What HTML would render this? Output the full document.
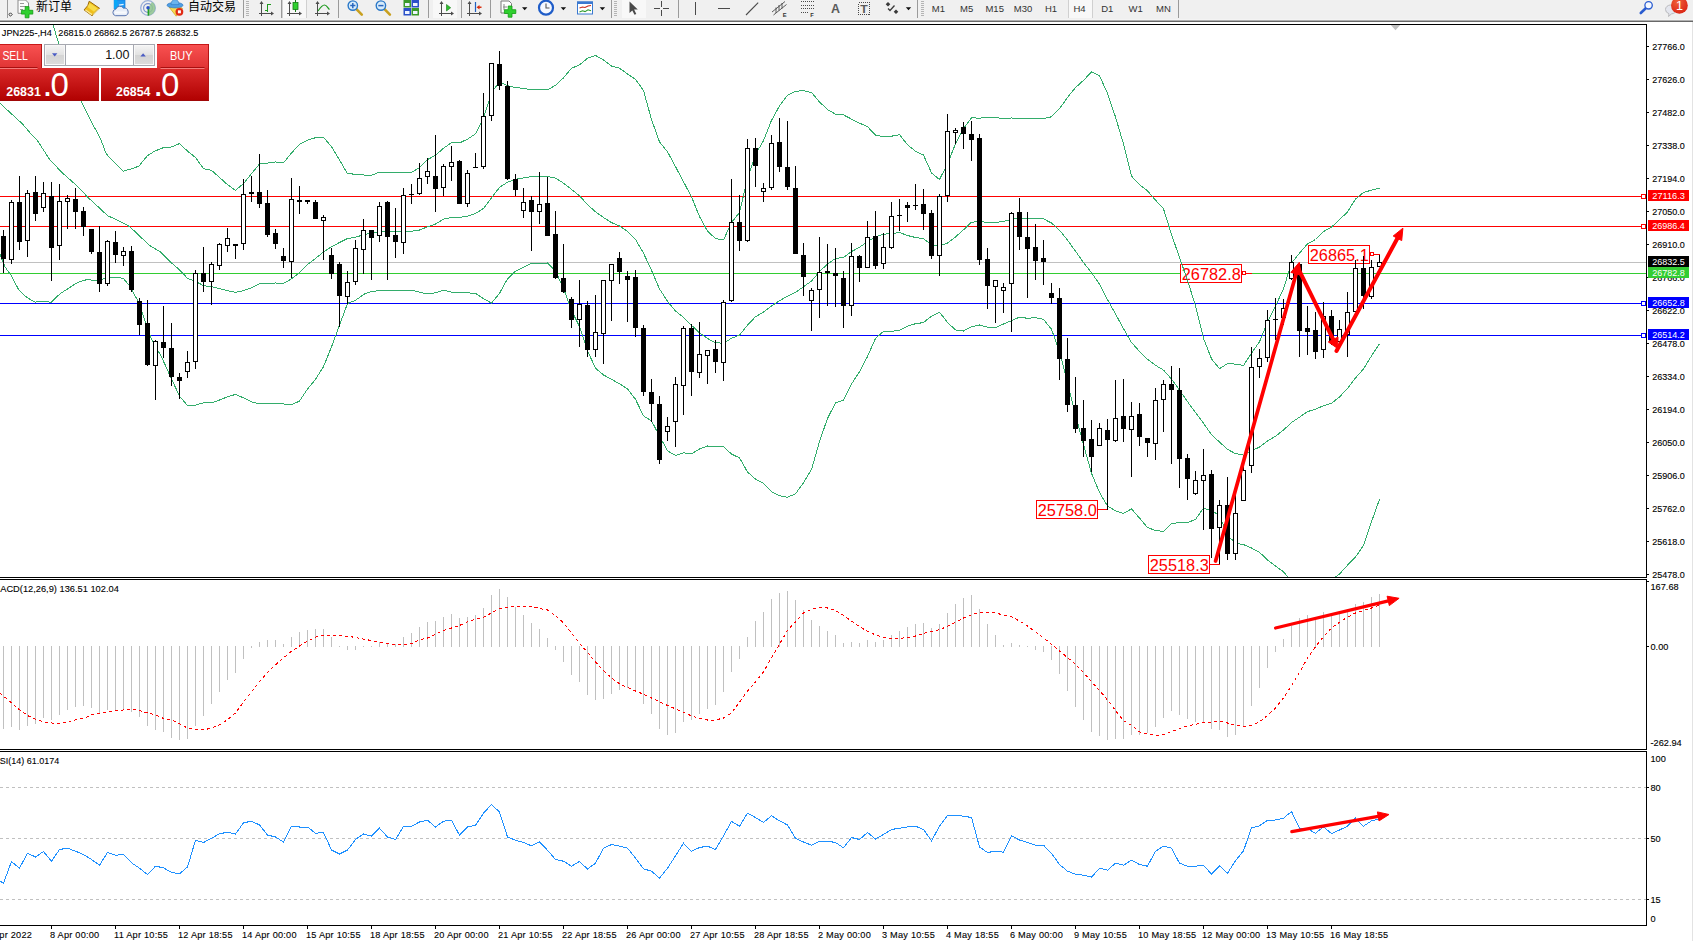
<!DOCTYPE html>
<html lang="zh"><head><meta charset="utf-8"><title>JPN225-,H4</title>
<style>html,body{margin:0;padding:0;background:#fff;overflow:hidden}svg{display:block}text{font-family:"Liberation Sans","Noto Sans CJK SC",sans-serif}</style>
</head><body>
<svg width="1693" height="941" viewBox="0 0 1693 941">
<defs>
<linearGradient id="gSell" x1="0" y1="0" x2="0" y2="1"><stop offset="0" stop-color="#f95252"/><stop offset="1" stop-color="#e03434"/></linearGradient>
<linearGradient id="gPrice" x1="0" y1="0" x2="0" y2="1"><stop offset="0" stop-color="#da2a2a"/><stop offset="1" stop-color="#b00000"/></linearGradient>
<linearGradient id="gBtn" x1="0" y1="0" x2="0" y2="1"><stop offset="0" stop-color="#f4f4f4"/><stop offset="0.5" stop-color="#e2e2e2"/><stop offset="0.5" stop-color="#d4d4d4"/><stop offset="1" stop-color="#dcdcdc"/></linearGradient>
<radialGradient id="gBadge" cx="0.4" cy="0.3" r="0.8"><stop offset="0" stop-color="#f0603a"/><stop offset="1" stop-color="#d81e10"/></radialGradient>
</defs>
<rect x="0" y="0" width="1693" height="941" fill="#fff"/>
<g id="toolbar"><rect x="0" y="0" width="1693" height="20" fill="#f0f0f0"/><rect x="0" y="19" width="1693" height="1" fill="#f4f4f4"/><rect x="0" y="20" width="1693" height="1" fill="#b0b0b0"/><rect x="0" y="21" width="1693" height="1" fill="#686868"/><rect x="282" y="0" width="24" height="18" fill="#f8f8f8"/><rect x="433" y="0" width="24" height="18" fill="#f8f8f8"/><rect x="622" y="0" width="24" height="18" fill="#f8f8f8"/><rect x="1068" y="0" width="24" height="18" fill="#f8f8f8"/><path d="M7.5 0V18M243.5 0V18M281.5 0V18M338.5 0V18M428.5 0V18M461.5 0V18M490.5 0V18M611.5 0V18M678.5 0V18M917.5 0V18M1178.5 0V18" stroke="#9a9a9a" fill="none" shape-rendering="crispEdges"/><path d="M247.5 1V17" stroke="#b4b4b4" stroke-width="3" stroke-dasharray="1 1" fill="none" shape-rendering="crispEdges"/><path d="M615.5 1V17" stroke="#b4b4b4" stroke-width="3" stroke-dasharray="1 1" fill="none" shape-rendering="crispEdges"/><path d="M922.5 1V17" stroke="#b4b4b4" stroke-width="3" stroke-dasharray="1 1" fill="none" shape-rendering="crispEdges"/><path d="M10.5 12.8l1.7 1.7l-1.7 1.7l-1.7 -1.7z" fill="none" stroke="#222" stroke-width="0.9"/><path d="M18 0V13.3H28.5V3L25.5 0z" fill="#fdfdfd" stroke="#8a8a8a"/><path d="M20 3.5h4M20 6.5h6M20 9.5h3" stroke="#9a9a9a" fill="none"/><path d="M25.2 6.6h3.8v3.7h3.8v3.8h-3.8v3.7h-3.8v-3.7h-3.8v-3.8h3.8z" fill="#2fd02f" stroke="#129a12" stroke-width="0.8"/><text x="36" y="11.3" font-family="'Liberation Sans','Noto Sans CJK SC',sans-serif" font-size="12" fill="#000">新订单</text><path d="M89.200 1.200L99.500 8.300L92 15.700L84.100 9.900L87.800 5.600z" fill="#efbe1c" stroke="#9a6808" stroke-width="1" stroke-linejoin="round"/><path d="M89.500 3L97.500 8.500L94 11.800L87.500 7z" fill="#f8dc48"/><path d="M85.500 10L92 14.600" stroke="#fae690" stroke-width="1.300" fill="none"/><path d="M93.200 14.700L98.800 9.200" stroke="#e8dca0" stroke-width="1.100" fill="none"/><path d="M114.200 0h10.800v9h-10.800z" fill="#1e9af4" stroke="#1478d8" stroke-width="0.7"/><path d="M114.200 0h3.200v9h-3.200z" fill="#08a8f8"/><path d="M119 5.200l4.600 -0.900" stroke="#e8f6ff" stroke-width="1.200" fill="none"/><path d="M115.500 15.700a3.300 3.300 0 0 1 0.300 -6.500a4.300 4.300 0 0 1 7.700 -1a3.700 3.700 0 0 1 1.600 7.500z" fill="#e8eef8" stroke="#4a68a8" stroke-width="0.9"/><path d="M114.800 12.500h11.500" stroke="#fff" stroke-width="2" opacity="0.7" fill="none"/><circle cx="148" cy="8" r="7.3" fill="none" stroke="#9ab0d8" stroke-width="1.3"/><circle cx="148" cy="8" r="4.4" fill="none" stroke="#7a94cc" stroke-width="1.2"/><path d="M148 8V15.5A7.5 7.5 0 0 0 155.3 8.6A7.3 7.3 0 0 0 152 2z" fill="#8fc48f" opacity="0.85"/><path d="M148.4 8V15.6" stroke="#22a022" stroke-width="1.6" fill="none"/><circle cx="148" cy="7.8" r="1.7" fill="#2a50c8"/><path d="M169 7L176.200 16.200L182.500 8.500L179 6z" fill="#f8dc50" stroke="#c8a018" stroke-width="0.7"/><ellipse cx="175" cy="5.200" rx="8" ry="2.700" fill="#4f9fe4" stroke="#2f78c0" stroke-width="0.7"/><path d="M171 4.600c0 -3 1.500 -5 4 -5s4 2 4 5z" fill="#6ab4ee" stroke="#2f78c0" stroke-width="0.6"/><circle cx="179.400" cy="11.800" r="3.900" fill="#e02a14"/><rect x="177.900" y="10.300" width="3" height="3" fill="#fff"/><text x="188" y="11.3" font-family="'Liberation Sans','Noto Sans CJK SC',sans-serif" font-size="12" fill="#000">自动交易</text><path d="M261.5 2V16M259 13.5H273" stroke="#4c4c4c" fill="none" shape-rendering="crispEdges"/><path d="M261.5 1l-2 3h4zM274 13.5l-3 -2v4z" fill="#4c4c4c"/><path d="M267.500 4V11.500M267.500 4.5h3M264.500 10.500h3" stroke="#1e9a1e" stroke-width="1.3" fill="none" shape-rendering="crispEdges"/><path d="M289.5 2V16M287 13.5H301" stroke="#4c4c4c" fill="none" shape-rendering="crispEdges"/><path d="M289.5 1l-2 3h4zM302 13.5l-3 -2v4z" fill="#4c4c4c"/><path d="M295.500 0V12" stroke="#167a16" fill="none" shape-rendering="crispEdges"/><rect x="293" y="2.500" width="5" height="7" fill="#2fd02f" stroke="#167a16" stroke-width="0.8"/><path d="M317.5 2V16M315 13.5H329" stroke="#4c4c4c" fill="none" shape-rendering="crispEdges"/><path d="M317.5 1l-2 3h4zM330 13.5l-3 -2v4z" fill="#4c4c4c"/><path d="M318 11c2-3 4-6 6.500-6s3 3 5 4.500" stroke="#1e9a1e" stroke-width="1.2" fill="none"/><path d="M356.40000000000003 9.200L361.8 14.600" stroke="#c8a020" stroke-width="2.600" stroke-linecap="round" fill="none"/><circle cx="352.8" cy="5.600" r="4.700" fill="#d8ecfa" stroke="#2a78c8" stroke-width="1.400"/><path d="M350.2 5.600h5.200M352.8 3v5.200" stroke="#2a68c0" stroke-width="1.500" fill="none"/><path d="M384.5 9.200L389.9 14.600" stroke="#c8a020" stroke-width="2.600" stroke-linecap="round" fill="none"/><circle cx="380.9" cy="5.600" r="4.700" fill="#d8ecfa" stroke="#2a78c8" stroke-width="1.400"/><path d="M378.29999999999995 5.600h5.200" stroke="#2a68c0" stroke-width="1.500" fill="none"/><rect x="403.5" y="0" width="7.500" height="7.500" fill="#3a9a2a"/><rect x="405.0" y="3" width="4.500" height="3" fill="#eef4ff"/><rect x="411.5" y="0" width="7.500" height="7.500" fill="#2a50c8"/><rect x="413.0" y="3" width="4.500" height="3" fill="#eef4ff"/><rect x="403.5" y="8" width="7.500" height="7.500" fill="#2a50c8"/><rect x="405.0" y="11" width="4.500" height="3" fill="#eef4ff"/><rect x="411.5" y="8" width="7.500" height="7.500" fill="#3a9a2a"/><rect x="413.0" y="11" width="4.500" height="3" fill="#eef4ff"/><path d="M441.5 2V16M439 13.5H453" stroke="#4c4c4c" fill="none" shape-rendering="crispEdges"/><path d="M441.5 1l-2 3h4zM454 13.5l-3 -2v4z" fill="#4c4c4c"/><path d="M446.500 4.500v6.500l4.200 -3.250z" fill="#2fc02f" stroke="#167a16" stroke-width="0.6"/><path d="M469.5 2V16M467 13.5H481" stroke="#4c4c4c" fill="none" shape-rendering="crispEdges"/><path d="M469.5 1l-2 3h4zM482 13.5l-3 -2v4z" fill="#4c4c4c"/><path d="M475.500 2V12" stroke="#2060c0" stroke-width="1.200" fill="none"/><path d="M476.500 7.300l3 -2.200v1.500h2v1.400h-2v1.500z" fill="#d83010"/><path d="M501 1V13H511.500V3.500L509 1z" fill="#fdfdfd" stroke="#7a7a7a"/><path d="M504 4v6M503 7h4" stroke="#888" fill="none"/><path d="M508.200 6h3.800v3.700h3.800v3.800h-3.800v3.700h-3.800v-3.700h-3.800v-3.800h3.800z" fill="#2fd02f" stroke="#129a12" stroke-width="0.8"/><path d="M522.0 7.300h5.400l-2.700 2.900z" fill="#111"/><path d="M560.6999999999999 7.300h5.400l-2.700 2.900z" fill="#111"/><path d="M599.6999999999999 7.300h5.400l-2.700 2.900z" fill="#111"/><path d="M905.8 7.300h5.400l-2.700 2.900z" fill="#111"/><path d="M-400.90000000000003 7.300h5.400l-2.700 2.900z" fill="#111"/><circle cx="546" cy="7.700" r="7" fill="#f4f8ff" stroke="#1e5cc8" stroke-width="2.200"/><path d="M546 3.500V8H549.500" stroke="#555" stroke-width="1.100" fill="none"/><rect x="577.500" y="2" width="15" height="12" fill="#fff" stroke="#3a78d0" stroke-width="1"/><rect x="577" y="1.500" width="16" height="2.500" fill="#3a78d0"/><path d="M579.500 8l3 -1l2.500 0.500l3 -1.500l3 -0.500" stroke="#c82a1a" stroke-width="1.100" fill="none"/><path d="M579.500 12l3 -1.200l2.500 0.800l3 -1.800l3 1" stroke="#2a9a2a" stroke-width="1.100" fill="none"/><path d="M629.500 1.500V13l2.800 -2.600l2.200 4.400l1.800 -0.900l-2.200 -4.300h3.700z" fill="#4a4a4a"/><path d="M661.500 1V16M654 8.500H669" stroke="#4a4a4a" fill="none" shape-rendering="crispEdges"/><rect x="660" y="7" width="3" height="3" fill="#f0f0f0"/><path d="M695.500 2V15M718 8.500H730" stroke="#4a4a4a" fill="none" shape-rendering="crispEdges"/><path d="M746 15L758.200 2.600" stroke="#4a4a4a" stroke-width="1.100" fill="none"/><path d="M772 12L785 1.500M773.500 15L786.500 4.500" stroke="#4a4a4a" stroke-width="0.9" fill="none"/><path d="M776 7.500V13M779 5V10.500M782 3V8.500" stroke="#4a4a4a" stroke-width="0.9" fill="none"/><text x="782.800" y="16.800" font-family="'Liberation Sans',sans-serif" font-size="5.800" font-weight="bold" fill="#333">E</text><path d="M801 1.500H814M801 5.500H814M801 8.500H814M801 12.500H809" stroke="#4a4a4a" stroke-dasharray="1 1" fill="none" shape-rendering="crispEdges"/><text x="810.300" y="16.800" font-family="'Liberation Sans',sans-serif" font-size="5.800" font-weight="bold" fill="#333">F</text><text x="831" y="12.800" font-family="'Liberation Sans',sans-serif" font-size="12" font-weight="bold" fill="#5a5a5a" textLength="9" lengthAdjust="spacingAndGlyphs">A</text><rect x="858.500" y="2.500" width="11" height="12" fill="none" stroke="#4a4a4a" stroke-dasharray="1 1" shape-rendering="crispEdges"/><text x="860.300" y="12.800" font-family="'Liberation Sans',sans-serif" font-size="11.500" font-weight="bold" fill="#5a5a5a" textLength="7.500" lengthAdjust="spacingAndGlyphs">T</text><path d="M888 2l2.300 2.300l-2.300 2.300l-2.300 -2.300zM896 9.500l2.300 2.300l-2.300 2.300l-2.300 -2.300z" fill="#3a3a3a"/><path d="M888 8.500l2 2l4.500 -5" stroke="#3a3a3a" stroke-width="1.300" fill="none"/><text x="938.4" y="11.500" font-family="'Liberation Sans',sans-serif" font-size="9.500" fill="#333" text-anchor="middle">M1</text><text x="966.6" y="11.500" font-family="'Liberation Sans',sans-serif" font-size="9.500" fill="#333" text-anchor="middle">M5</text><text x="994.7" y="11.500" font-family="'Liberation Sans',sans-serif" font-size="9.500" fill="#333" text-anchor="middle">M15</text><text x="1023" y="11.500" font-family="'Liberation Sans',sans-serif" font-size="9.500" fill="#333" text-anchor="middle">M30</text><text x="1051" y="11.500" font-family="'Liberation Sans',sans-serif" font-size="9.500" fill="#333" text-anchor="middle">H1</text><text x="1079.5" y="11.500" font-family="'Liberation Sans',sans-serif" font-size="9.500" fill="#333" text-anchor="middle">H4</text><text x="1107.3" y="11.500" font-family="'Liberation Sans',sans-serif" font-size="9.500" fill="#333" text-anchor="middle">D1</text><text x="1135.6" y="11.500" font-family="'Liberation Sans',sans-serif" font-size="9.500" fill="#333" text-anchor="middle">W1</text><text x="1163.4" y="11.500" font-family="'Liberation Sans',sans-serif" font-size="9.500" fill="#333" text-anchor="middle">MN</text><path d="M1068.500 0V18M1092.500 0V18M282.500 0V18M306.500 0V18" stroke="#d0d0d0" fill="none" shape-rendering="crispEdges"/><path d="M1646 8L1640.800 13" stroke="#2a5cd0" stroke-width="2.600" stroke-linecap="round" fill="none"/><circle cx="1648.600" cy="5.300" r="3.700" fill="#f4f8ff" stroke="#2a5cd0" stroke-width="1.300"/><path d="M1665.500 9.500a5.500 4.500 0 1 1 6 4.400l-3 2.600l0.500 -2.800a5.500 4.500 0 0 1 -3.500 -4.200z" fill="#e4e6ee" stroke="#b4b4b8" stroke-width="0.9"/><circle cx="1679.400" cy="5.400" r="8.400" fill="url(#gBadge)"/><text x="1679.600" y="10" font-family="'Liberation Sans',sans-serif" font-size="12.500" fill="#fff" text-anchor="middle">1</text></g>
<g shape-rendering="crispEdges" fill="none">
<rect x="1692" y="22" width="1" height="919" fill="#e3e3e3" stroke="none"/>
<path d="M0 24.5H1647" stroke="#000"/>
<path d="M1646.5 24V578M1646.5 579V750M1646.5 751V926" stroke="#000"/>
<path d="M0 577.5H1647M0 579.5H1647M0 749.5H1647M0 751.5H1647M0 925.5H1647" stroke="#000"/>
</g>
<g shape-rendering="crispEdges" fill="none">
<path d="M0 262.5H1646" stroke="#c0c0c0"/>
<path d="M0 273.5H1646" stroke="#32cd32"/>
<path d="M0 196.5H1641" stroke="#ff0000"/>
<rect x="1641.5" y="194.5" width="4" height="4" stroke="#ff0000" fill="#fff"/>
<path d="M0 226.5H1641" stroke="#ff0000"/>
<rect x="1641.5" y="224.5" width="4" height="4" stroke="#ff0000" fill="#fff"/>
<path d="M0 303.5H1641" stroke="#0000ff"/>
<rect x="1641.5" y="301.5" width="4" height="4" stroke="#0000ff" fill="#fff"/>
<path d="M0 335.5H1641" stroke="#0000ff"/>
<rect x="1641.5" y="333.5" width="4" height="4" stroke="#0000ff" fill="#fff"/>
</g>
<g id="annot-bg"><g fill="none" stroke="#ff0000" shape-rendering="crispEdges"><path d="M1098 509.5H1108"/><path d="M1210 564.5H1220"/><path d="M1245 273.5H1252"/><rect x="1242.5" y="271.5" width="3" height="3" fill="#fff"/><path d="M1373 254.5H1380"/><rect x="1370.5" y="252.5" width="3" height="3" fill="#fff"/></g><rect x="1036.5" y="500.5" width="61" height="18" fill="#fff" stroke="#ff0000" shape-rendering="crispEdges"/><text x="1037.8" y="516" font-family="'Liberation Sans',sans-serif" font-size="16.7" fill="#ff0000" textLength="59" lengthAdjust="spacingAndGlyphs">25758.0</text><rect x="1148.5" y="555.5" width="61" height="18" fill="#fff" stroke="#ff0000" shape-rendering="crispEdges"/><text x="1149.8" y="571" font-family="'Liberation Sans',sans-serif" font-size="16.7" fill="#ff0000" textLength="59" lengthAdjust="spacingAndGlyphs">25518.3</text><rect x="1180.5" y="264.5" width="61" height="18" fill="#fff" stroke="#ff0000" shape-rendering="crispEdges"/><text x="1181.8" y="280" font-family="'Liberation Sans',sans-serif" font-size="16.7" fill="#ff0000" textLength="59" lengthAdjust="spacingAndGlyphs">26782.8</text><rect x="1308.5" y="245.5" width="61" height="18" fill="#fff" stroke="#ff0000" shape-rendering="crispEdges"/><text x="1309.8" y="261" font-family="'Liberation Sans',sans-serif" font-size="16.7" fill="#ff0000" textLength="59" lengthAdjust="spacingAndGlyphs">26865.1</text></g>
<g id="bands" shape-rendering="crispEdges">
<path d="M0.0 102.8 L6.2 109.0 L22.5 124.0 L30.0 132.8 L37.5 140.7 L50.0 160.0 L62.5 173.0 L78.8 187.5 L87.5 197.0 L96.2 205.0 L107.5 215.6 L125.0 223.8 L130.0 226.9 L143.8 240.0 L148.8 245.0 L161.2 252.5 L171.5 262.9 L179.5 269.9 L187.5 278.3 L195.5 281.3 L203.5 285.7 L211.5 286.6 L219.5 288.7 L227.5 290.7 L235.5 292.4 L243.5 290.7 L251.5 287.8 L259.5 283.8 L267.5 283.5 L275.5 283.0 L283.5 283.4 L291.5 278.9 L299.5 272.8 L307.5 264.6 L315.5 258.5 L323.5 251.9 L331.5 246.8 L339.5 242.5 L347.5 238.5 L355.5 237.3 L363.5 234.7 L371.5 233.3 L379.5 231.4 L387.5 231.3 L395.5 231.2 L403.5 231.2 L411.5 231.3 L419.5 230.0 L427.5 226.8 L435.5 224.0 L443.5 219.2 L451.5 217.4 L459.5 217.5 L467.5 216.1 L475.5 213.5 L483.5 208.4 L491.5 197.9 L499.5 187.4 L507.5 182.2 L515.5 179.3 L523.5 177.9 L531.5 176.6 L539.5 176.6 L547.5 176.5 L555.5 178.2 L563.5 183.1 L571.5 189.4 L579.5 195.7 L587.5 204.6 L595.5 211.8 L603.5 217.5 L611.5 222.6 L619.5 226.0 L627.5 231.3 L635.5 239.3 L643.5 253.2 L651.5 270.2 L659.5 288.9 L667.5 301.3 L675.5 311.0 L683.5 317.3 L691.5 325.3 L699.5 332.8 L707.5 338.5 L715.5 342.8 L723.5 343.2 L731.5 338.3 L739.5 335.1 L747.5 325.1 L755.5 316.7 L763.5 312.1 L771.5 306.0 L779.5 300.8 L787.5 296.1 L795.5 292.5 L803.5 286.7 L811.5 281.0 L819.5 271.6 L827.5 264.0 L835.5 258.5 L843.5 257.4 L851.5 251.6 L859.5 247.3 L867.5 241.6 L875.5 236.8 L883.5 234.1 L891.5 233.8 L899.5 232.5 L907.5 235.5 L915.5 237.5 L923.5 238.8 L931.5 244.5 L939.5 245.9 L947.5 243.1 L955.5 236.9 L963.5 229.8 L971.5 222.2 L979.5 221.6 L987.5 222.3 L995.5 222.4 L1003.5 221.5 L1011.5 219.4 L1019.5 217.8 L1027.5 218.4 L1035.5 218.2 L1043.5 218.9 L1051.5 223.0 L1059.5 230.2 L1067.5 240.1 L1075.5 251.2 L1083.5 262.5 L1091.5 272.6 L1099.5 284.2 L1107.5 299.6 L1115.5 314.0 L1123.5 328.7 L1131.5 342.5 L1139.5 351.4 L1147.5 359.2 L1155.5 365.3 L1163.5 370.1 L1171.5 379.0 L1179.5 390.1 L1187.5 401.6 L1195.5 412.5 L1203.5 423.2 L1211.5 434.7 L1219.5 442.0 L1227.5 449.4 L1235.5 453.6 L1243.5 455.1 L1251.5 450.6 L1259.5 447.1 L1267.5 441.1 L1275.5 436.2 L1283.5 430.1 L1291.5 422.5 L1299.5 417.2 L1307.5 411.6 L1315.5 409.2 L1323.5 405.7 L1331.5 403.4 L1339.5 396.9 L1347.5 388.6 L1355.5 378.0 L1363.5 369.0 L1371.5 355.9 L1379.5 343.8" fill="none" stroke="#33ad6b" stroke-width="1" />
<path d="M53.1 25.0 L58.1 41.5 L70.0 72.0 L81.9 102.8 L87.5 114.0 L92.5 124.0 L98.8 135.2 L101.2 140.6 L106.2 153.8 L115.0 163.0 L123.1 171.2 L131.0 169.0 L138.8 166.2 L147.5 155.6 L155.0 151.0 L162.5 148.0 L171.5 147.0 L179.5 143.6 L187.5 151.1 L195.5 157.5 L203.5 168.7 L211.5 170.4 L219.5 177.4 L227.5 184.7 L235.5 190.3 L243.5 183.6 L251.5 173.7 L259.5 163.9 L267.5 163.1 L275.5 162.0 L283.5 162.9 L291.5 153.0 L299.5 144.4 L307.5 140.2 L315.5 137.7 L323.5 137.3 L331.5 146.7 L339.5 159.9 L347.5 173.7 L355.5 174.2 L363.5 175.0 L371.5 175.2 L379.5 172.2 L387.5 172.2 L395.5 172.2 L403.5 172.3 L411.5 172.5 L419.5 167.7 L427.5 159.6 L435.5 155.3 L443.5 148.3 L451.5 142.7 L459.5 142.9 L467.5 139.2 L475.5 133.8 L483.5 118.2 L491.5 92.8 L499.5 81.5 L507.5 85.7 L515.5 87.5 L523.5 88.4 L531.5 89.9 L539.5 89.9 L547.5 90.0 L555.5 85.3 L563.5 77.9 L571.5 68.3 L579.5 64.9 L587.5 58.3 L595.5 55.5 L603.5 60.0 L611.5 66.0 L619.5 68.2 L627.5 73.9 L635.5 79.4 L643.5 90.4 L651.5 119.6 L659.5 141.8 L667.5 151.8 L675.5 166.6 L683.5 181.8 L691.5 196.8 L699.5 216.6 L707.5 231.1 L715.5 238.6 L723.5 240.0 L731.5 222.5 L739.5 212.5 L747.5 178.2 L755.5 154.4 L763.5 140.7 L771.5 120.4 L779.5 105.9 L787.5 95.1 L795.5 91.2 L803.5 90.7 L811.5 92.5 L819.5 101.9 L827.5 109.6 L835.5 114.2 L843.5 114.9 L851.5 119.1 L859.5 123.1 L867.5 126.7 L875.5 135.1 L883.5 136.7 L891.5 136.2 L899.5 134.7 L907.5 144.7 L915.5 151.3 L923.5 155.0 L931.5 172.9 L939.5 179.6 L947.5 163.8 L955.5 143.8 L963.5 128.6 L971.5 117.8 L979.5 118.2 L987.5 117.4 L995.5 117.2 L1003.5 119.0 L1011.5 118.0 L1019.5 118.6 L1027.5 118.6 L1035.5 118.8 L1043.5 118.5 L1051.5 116.8 L1059.5 108.8 L1067.5 97.4 L1075.5 87.6 L1083.5 80.4 L1091.5 71.9 L1099.5 75.9 L1107.5 93.2 L1115.5 117.0 L1123.5 144.0 L1131.5 176.1 L1139.5 184.7 L1147.5 190.8 L1155.5 200.1 L1163.5 208.8 L1171.5 234.5 L1179.5 257.4 L1187.5 280.5 L1195.5 305.6 L1203.5 338.3 L1211.5 358.8 L1219.5 368.7 L1227.5 363.6 L1235.5 364.1 L1243.5 365.5 L1251.5 353.1 L1259.5 341.8 L1267.5 322.2 L1275.5 306.2 L1283.5 288.6 L1291.5 263.2 L1299.5 253.1 L1307.5 243.9 L1315.5 239.5 L1323.5 231.5 L1331.5 227.1 L1339.5 219.7 L1347.5 211.9 L1355.5 199.0 L1363.5 192.5 L1371.5 190.1 L1379.5 188.2" fill="none" stroke="#33ad6b" stroke-width="1" />
<clipPath id="cm"><rect x="0" y="25" width="1646" height="552"/></clipPath>
<g clip-path="url(#cm)">
<path d="M0.0 254.4 L5.0 266.9 L11.2 275.6 L18.8 290.0 L26.9 297.5 L35.0 302.2 L42.5 301.2 L51.2 302.2 L60.0 293.8 L68.8 288.1 L77.5 282.5 L87.5 279.4 L95.0 280.6 L103.8 278.8 L112.5 277.5 L123.1 278.1 L128.8 285.0 L137.5 300.0 L143.8 317.5 L151.2 338.8 L161.2 356.2 L171.5 378.9 L179.5 396.1 L187.5 405.6 L195.5 405.1 L203.5 402.8 L211.5 402.8 L219.5 400.0 L227.5 396.8 L235.5 394.4 L243.5 397.9 L251.5 401.9 L259.5 403.7 L267.5 403.9 L275.5 403.9 L283.5 404.0 L291.5 404.8 L299.5 401.1 L307.5 389.1 L315.5 379.3 L323.5 366.6 L331.5 346.9 L339.5 325.2 L347.5 303.4 L355.5 300.4 L363.5 294.4 L371.5 291.5 L379.5 290.6 L387.5 290.5 L395.5 290.2 L403.5 290.1 L411.5 290.1 L419.5 292.2 L427.5 294.0 L435.5 292.7 L443.5 290.2 L451.5 292.1 L459.5 292.1 L467.5 292.9 L475.5 293.2 L483.5 298.7 L491.5 303.1 L499.5 293.4 L507.5 278.8 L515.5 271.1 L523.5 267.4 L531.5 263.4 L539.5 263.2 L547.5 263.0 L555.5 271.2 L563.5 288.3 L571.5 310.4 L579.5 326.5 L587.5 350.9 L595.5 368.1 L603.5 375.0 L611.5 379.3 L619.5 383.8 L627.5 388.8 L635.5 399.3 L643.5 415.9 L651.5 420.8 L659.5 436.0 L667.5 450.8 L675.5 455.4 L683.5 452.8 L691.5 453.8 L699.5 449.0 L707.5 446.0 L715.5 446.9 L723.5 446.5 L731.5 454.1 L739.5 457.8 L747.5 472.0 L755.5 479.1 L763.5 483.4 L771.5 491.7 L779.5 495.7 L787.5 497.2 L795.5 493.8 L803.5 482.7 L811.5 469.5 L819.5 441.4 L827.5 418.4 L835.5 402.9 L843.5 400.0 L851.5 384.1 L859.5 371.6 L867.5 356.5 L875.5 338.5 L883.5 331.4 L891.5 331.3 L899.5 330.3 L907.5 326.2 L915.5 323.7 L923.5 322.6 L931.5 316.1 L939.5 312.2 L947.5 322.4 L955.5 330.0 L963.5 331.0 L971.5 326.7 L979.5 325.0 L987.5 327.1 L995.5 327.7 L1003.5 324.0 L1011.5 320.7 L1019.5 317.1 L1027.5 318.3 L1035.5 317.6 L1043.5 319.4 L1051.5 329.2 L1059.5 351.6 L1067.5 382.8 L1075.5 414.8 L1083.5 444.6 L1091.5 473.3 L1099.5 492.4 L1107.5 506.0 L1115.5 510.9 L1123.5 513.4 L1131.5 508.9 L1139.5 518.0 L1147.5 527.6 L1155.5 530.4 L1163.5 531.5 L1171.5 523.4 L1179.5 522.7 L1187.5 522.6 L1195.5 519.4 L1203.5 508.1 L1211.5 510.6 L1219.5 515.3 L1227.5 535.3 L1235.5 543.1 L1243.5 544.6 L1251.5 548.0 L1259.5 552.3 L1267.5 559.9 L1275.5 566.1 L1283.5 571.7 L1291.5 581.8 L1299.5 581.2 L1307.5 579.2 L1315.5 578.8 L1323.5 580.0 L1331.5 579.7 L1339.5 574.1 L1347.5 565.2 L1355.5 557.0 L1363.5 545.5 L1371.5 521.7 L1379.5 499.4" fill="none" stroke="#33ad6b" stroke-width="1" />
</g></g>
<g id="candles" shape-rendering="crispEdges">
<path d="M3.5 230V273M11.5 200V264M19.5 176V250M27.5 190V257M35.5 176V221M43.5 182V212M51.5 182V281M59.5 184V260M67.5 195V229M75.5 188V229M83.5 207V236M91.5 229V254M99.5 226V292M107.5 240V286M115.5 231V263M123.5 247V266M131.5 246V292M139.5 298V335M147.5 300V366M155.5 340V400M163.5 306V358M171.5 323V386M179.5 373V399M187.5 351V378M195.5 270V369M203.5 247V292M211.5 262V305M219.5 243V270M227.5 228V252M235.5 244V259M243.5 179V250M251.5 176V202M259.5 154V208M267.5 190V237M275.5 229V249M283.5 248V268M291.5 178V278M299.5 186V214M307.5 200V204M315.5 200V219M323.5 215V260M331.5 248V279M339.5 262V327M347.5 271V304M355.5 240V285M363.5 219V274M371.5 230V280M379.5 202V242M387.5 201V280M395.5 208V258M403.5 188V254M411.5 184V204M419.5 163V195M427.5 158V184M435.5 135V212M443.5 164V196M451.5 146V181M459.5 160V204M467.5 170V207M475.5 153V168M483.5 93V169M491.5 63V121M499.5 51V90M507.5 81V180M515.5 174V196M523.5 188V218M531.5 196V251M539.5 172V224M547.5 177V236M555.5 211V279M563.5 244V293M571.5 297V328M579.5 280V347M587.5 301V357M595.5 295V357M603.5 280V364M611.5 264V321M619.5 252V284M627.5 271V322M635.5 270V337M643.5 325V396M651.5 379V422M659.5 396V464M667.5 417V441M675.5 377V447M683.5 326V415M691.5 324V396M699.5 322V378M707.5 350V384M715.5 340V373M723.5 300V381M731.5 179V302M739.5 195V251M747.5 139V242M755.5 138V187M763.5 183V202M771.5 135V190M779.5 118V172M787.5 121V190M795.5 166V254M803.5 243V296M811.5 288V331M819.5 237V318M827.5 244V306M835.5 248V307M843.5 271V328M851.5 243V316M859.5 255V282M867.5 221V268M875.5 211V269M883.5 233V269M891.5 202V249M899.5 199V231M907.5 202V222M915.5 184V210M923.5 189V230M931.5 210V259M939.5 194V276M947.5 114V202M955.5 128V144M963.5 122V149M971.5 121V161M979.5 134V265M987.5 248V309M995.5 280V323M1003.5 283V313M1011.5 212V332M1019.5 198V250M1027.5 212V298M1035.5 224V280M1043.5 240V285M1051.5 283V304M1059.5 288V380M1067.5 338V412M1075.5 377V433M1083.5 400V457M1091.5 420V472M1099.5 423V446M1107.5 419V510M1115.5 380V442M1123.5 379V442M1131.5 402V477M1139.5 403V446M1147.5 438V457M1155.5 388V460M1163.5 380V432M1171.5 366V464M1179.5 368V488M1187.5 454V500M1195.5 471V495M1203.5 449V530M1211.5 470V558M1219.5 500V564M1227.5 477V560M1235.5 495V560M1243.5 466V501M1251.5 347V473M1259.5 349V378M1267.5 310V362M1275.5 298V340M1283.5 299V325M1291.5 255V280M1299.5 264V357M1307.5 306V355M1315.5 312V359M1323.5 302V358M1331.5 310V345M1339.5 320V345M1347.5 292V357M1355.5 260V312M1363.5 256V309M1371.5 260V299M1379.5 255V267" stroke="#000" fill="none"/>
<path d="M1 236h5V259h-5zM17 202h5V242h-5zM33 192h5V214h-5zM49 196h5V248h-5zM73 199h5V212h-5zM81 211h5V227h-5zM89 229h5V252h-5zM97 252h5V284h-5zM113 242h5V255h-5zM129 251h5V290h-5zM137 301h5V325h-5zM145 323h5V365h-5zM161 342h5V348h-5zM169 348h5V377h-5zM177 377h5V381h-5zM201 273h5V282h-5zM233 244h5V246h-5zM249 192h5V194h-5zM257 192h5V204h-5zM265 203h5V235h-5zM273 233h5V244h-5zM281 256h5V261h-5zM297 200h5V202h-5zM305 200h5V202h-5zM313 202h5V219h-5zM329 255h5V274h-5zM337 264h5V296h-5zM369 230h5V238h-5zM385 202h5V237h-5zM393 235h5V242h-5zM409 194h5v1h-5zM433 176h5V189h-5zM457 161h5V204h-5zM473 167h5v1h-5zM497 64h5V86h-5zM505 86h5V179h-5zM513 179h5V190h-5zM529 200h5V212h-5zM545 203h5V236h-5zM553 234h5V278h-5zM561 278h5V292h-5zM569 299h5V320h-5zM585 305h5V350h-5zM617 258h5V272h-5zM625 276h5V280h-5zM633 277h5V328h-5zM641 328h5V392h-5zM649 392h5V404h-5zM657 404h5V460h-5zM689 328h5V372h-5zM713 349h5V362h-5zM737 222h5V241h-5zM753 148h5V166h-5zM777 142h5V167h-5zM785 167h5V187h-5zM793 188h5V254h-5zM801 255h5V277h-5zM825 271h5V273h-5zM833 273h5V276h-5zM841 278h5V306h-5zM857 256h5V268h-5zM873 236h5V266h-5zM897 215h5v1h-5zM905 205h5V208h-5zM913 205h5v1h-5zM921 204h5V214h-5zM929 213h5V256h-5zM961 127h5V134h-5zM969 134h5V140h-5zM977 138h5V260h-5zM985 259h5V286h-5zM1017 212h5V237h-5zM1025 237h5V249h-5zM1033 247h5V261h-5zM1041 258h5V262h-5zM1049 293h5V298h-5zM1057 298h5V359h-5zM1065 359h5V405h-5zM1073 405h5V429h-5zM1081 428h5V441h-5zM1089 439h5V457h-5zM1105 430h5V440h-5zM1121 416h5V429h-5zM1137 414h5V437h-5zM1145 438h5V443h-5zM1169 384h5V390h-5zM1177 390h5V459h-5zM1185 458h5V479h-5zM1209 474h5V529h-5zM1225 505h5V554h-5zM1273 319h5v1h-5zM1297 264h5V331h-5zM1305 328h5V332h-5zM1313 330h5V352h-5zM1329 316h5V342h-5zM1361 268h5V296h-5z" fill="#000" stroke="none"/>
<path d="M9.5 202.5h4V259.5h-4zM25.5 193.5h4V240.5h-4zM41.5 193.5h4V207.5h-4zM57.5 201.5h4V245.5h-4zM65.5 198.5h4V201.5h-4zM105.5 241.5h4V283.5h-4zM121.5 251.5h4V255.5h-4zM153.5 341.5h4V365.5h-4zM185.5 362.5h4V371.5h-4zM193.5 273.5h4V361.5h-4zM209.5 264.5h4V281.5h-4zM217.5 244.5h4V265.5h-4zM225.5 238.5h4V245.5h-4zM241.5 194.5h4V243.5h-4zM289.5 199.5h4V261.5h-4zM321.5 217.5h4V220.5h-4zM345.5 282.5h4V296.5h-4zM353.5 248.5h4V281.5h-4zM361.5 230.5h4V249.5h-4zM377.5 206.5h4V235.5h-4zM401.5 195.5h4V242.5h-4zM417.5 178.5h4V193.5h-4zM425.5 171.5h4V176.5h-4zM441.5 166.5h4V187.5h-4zM449.5 162.5h4V166.5h-4zM465.5 173.5h4V203.5h-4zM481.5 116.5h4V166.5h-4zM489.5 63.5h4V115.5h-4zM521.5 202.5h4V210.5h-4zM537.5 204.5h4V211.5h-4zM577.5 304.5h4V319.5h-4zM593.5 332.5h4V349.5h-4zM601.5 280.5h4V333.5h-4zM609.5 264.5h4V280.5h-4zM665.5 426.5h4V431.5h-4zM673.5 384.5h4V421.5h-4zM681.5 328.5h4V385.5h-4zM697.5 354.5h4V372.5h-4zM705.5 350.5h4V355.5h-4zM721.5 302.5h4V362.5h-4zM729.5 222.5h4V300.5h-4zM745.5 148.5h4V240.5h-4zM761.5 188.5h4V191.5h-4zM769.5 143.5h4V187.5h-4zM809.5 290.5h4V300.5h-4zM817.5 272.5h4V289.5h-4zM849.5 256.5h4V305.5h-4zM865.5 237.5h4V267.5h-4zM881.5 247.5h4V263.5h-4zM889.5 216.5h4V247.5h-4zM937.5 196.5h4V255.5h-4zM945.5 131.5h4V195.5h-4zM953.5 130.5h4V132.5h-4zM993.5 280.5h4V286.5h-4zM1001.5 287.5h4V290.5h-4zM1009.5 213.5h4V283.5h-4zM1097.5 428.5h4V445.5h-4zM1113.5 418.5h4V440.5h-4zM1129.5 416.5h4V429.5h-4zM1153.5 400.5h4V443.5h-4zM1161.5 384.5h4V399.5h-4zM1193.5 480.5h4V493.5h-4zM1201.5 475.5h4V480.5h-4zM1217.5 505.5h4V527.5h-4zM1233.5 513.5h4V553.5h-4zM1241.5 470.5h4V500.5h-4zM1249.5 367.5h4V465.5h-4zM1257.5 358.5h4V366.5h-4zM1265.5 320.5h4V357.5h-4zM1281.5 308.5h4V317.5h-4zM1289.5 262.5h4V278.5h-4zM1321.5 316.5h4V349.5h-4zM1337.5 329.5h4V341.5h-4zM1345.5 312.5h4V334.5h-4zM1353.5 268.5h4V311.5h-4zM1369.5 267.5h4V296.5h-4zM1377.5 262.5h4V266.5h-4z" fill="#fff" stroke="#000"/>
</g>
<g id="macd" shape-rendering="crispEdges">
<path d="M3.5 646V729M11.5 646V727M19.5 646V730M27.5 646V726M35.5 646V724M43.5 646V718M51.5 646V720M59.5 646V715M67.5 646V710M75.5 646V707M83.5 646V706M91.5 646V708M99.5 646V713M107.5 646V710M115.5 646V710M123.5 646V709M131.5 646V712M139.5 646V717M147.5 646V726M155.5 646V730M163.5 646V732M171.5 646V738M179.5 646V740M187.5 646V739M195.5 646V726M203.5 646V716M211.5 646V704M219.5 646V692M227.5 646V680M235.5 646V673M243.5 646V659M251.5 646V648M259.5 642V647M267.5 640V647M275.5 640V647M283.5 644V647M291.5 637V647M299.5 632V647M307.5 630V647M315.5 629V647M323.5 629V647M331.5 637V647M339.5 646V647M347.5 646V650M355.5 646V650M363.5 646V647M371.5 646V647M379.5 642V647M387.5 643V647M395.5 644V647M403.5 637V647M411.5 633V647M419.5 627V647M427.5 622V647M435.5 621V647M443.5 617V647M451.5 614V647M459.5 618V647M467.5 617V647M475.5 615V647M483.5 608V647M491.5 595V647M499.5 589V647M507.5 597V647M515.5 607V647M523.5 615V647M531.5 623V647M539.5 629V647M547.5 638V647M555.5 646V650M563.5 646V662M571.5 646V675M579.5 646V682M587.5 646V695M595.5 646V700M603.5 646V699M611.5 646V694M619.5 646V690M627.5 646V688M635.5 646V692M643.5 646V704M651.5 646V714M659.5 646V729M667.5 646V735M675.5 646V733M683.5 646V722M691.5 646V720M699.5 646V714M707.5 646V709M715.5 646V705M723.5 646V692M731.5 646V672M739.5 646V659M747.5 637V647M755.5 621V647M763.5 612V647M771.5 599V647M779.5 593V647M787.5 591V647M795.5 600V647M803.5 610V647M811.5 620V647M819.5 626V647M827.5 631V647M835.5 635V647M843.5 643V647M851.5 642V647M859.5 643V647M867.5 640V647M875.5 642V647M883.5 640V647M891.5 635V647M899.5 631V647M907.5 627V647M915.5 624V647M923.5 623V647M931.5 628V647M939.5 624V647M947.5 613V647M955.5 604V647M963.5 598V647M971.5 595V647M979.5 609V647M987.5 624V647M995.5 635V647M1003.5 645V647M1011.5 643V647M1019.5 645V647M1027.5 646V647M1035.5 646V650M1043.5 646V652M1051.5 646V660M1059.5 646V674M1067.5 646V691M1075.5 646V707M1083.5 646V720M1091.5 646V732M1099.5 646V736M1107.5 646V740M1115.5 646V739M1123.5 646V739M1131.5 646V735M1139.5 646V735M1147.5 646V733M1155.5 646V727M1163.5 646V718M1171.5 646V711M1179.5 646V715M1187.5 646V719M1195.5 646V722M1203.5 646V722M1211.5 646V729M1219.5 646V730M1227.5 646V737M1235.5 646V735M1243.5 646V726M1251.5 646V706M1259.5 646V688M1267.5 646V668M1275.5 646V652M1283.5 639V647M1291.5 626V647M1299.5 618V647M1307.5 615V647M1315.5 617V647M1323.5 612V647M1331.5 613V647M1339.5 611V647M1347.5 609V647M1355.5 604V647M1363.5 602V647M1371.5 597V647M1379.5 594V647" stroke="#c0c0c0" fill="none" shape-rendering="crispEdges"/>
<path d="M0.0 693.0 L11.5 703.0 L19.5 709.8 L27.5 715.5 L35.5 719.2 L43.5 721.8 L51.5 723.0 L59.5 723.2 L67.5 722.5 L75.5 719.8 L83.5 718.5 L91.5 715.0 L99.5 713.5 L107.5 712.2 L115.5 711.0 L123.5 710.0 L131.5 709.2 L139.5 710.5 L147.5 713.0 L155.5 714.8 L163.5 718.5 L171.5 719.8 L179.5 723.8 L187.5 728.0 L195.5 729.2 L203.5 730.0 L211.5 728.0 L219.5 724.8 L227.5 719.8 L235.5 713.0 L243.5 702.2 L251.5 691.8 L259.5 681.8 L267.5 672.5 L275.5 664.8 L283.5 658.0 L291.5 651.2 L299.5 646.0 L307.5 641.2 L315.5 637.2 L323.5 635.5 L331.5 635.5 L339.5 635.5 L347.5 636.2 L355.5 637.5 L363.5 639.2 L371.5 640.5 L379.5 642.2 L387.5 643.8 L395.5 644.5 L403.5 644.5 L411.5 643.5 L419.5 639.8 L427.5 638.0 L435.5 634.2 L443.5 630.5 L451.5 628.0 L459.5 625.5 L467.5 621.8 L475.5 619.2 L483.5 617.2 L491.5 613.0 L499.5 608.8 L507.5 607.5 L515.5 606.5 L523.5 606.5 L531.5 606.5 L539.5 608.5 L547.5 610.0 L555.5 615.5 L563.5 623.0 L571.5 633.0 L579.5 643.5 L587.5 652.5 L595.5 661.8 L603.5 670.5 L611.5 678.0 L619.5 683.8 L627.5 687.5 L635.5 691.0 L643.5 694.2 L651.5 698.0 L659.5 701.8 L667.5 705.5 L675.5 708.8 L683.5 712.2 L691.5 716.0 L699.5 718.5 L707.5 720.0 L715.5 720.0 L723.5 718.0 L731.5 713.0 L739.5 702.2 L747.5 691.2 L755.5 681.8 L763.5 671.8 L771.5 658.0 L779.5 644.2 L787.5 630.5 L795.5 621.8 L803.5 613.0 L811.5 609.2 L819.5 607.5 L827.5 608.0 L835.5 610.5 L843.5 615.5 L851.5 621.0 L859.5 626.8 L867.5 631.2 L875.5 635.0 L883.5 637.2 L891.5 638.5 L899.5 638.5 L907.5 637.5 L915.5 636.0 L923.5 633.5 L931.5 631.2 L939.5 629.8 L947.5 626.2 L955.5 622.2 L963.5 618.0 L971.5 614.8 L979.5 612.5 L987.5 612.2 L995.5 613.0 L1003.5 615.0 L1011.5 616.8 L1019.5 621.0 L1027.5 626.0 L1035.5 631.8 L1043.5 638.0 L1051.5 644.2 L1059.5 651.0 L1067.5 657.5 L1075.5 664.2 L1083.5 672.5 L1091.5 681.8 L1099.5 690.5 L1107.5 700.0 L1115.5 710.5 L1123.5 720.5 L1131.5 725.5 L1139.5 731.8 L1147.5 734.2 L1155.5 735.2 L1163.5 734.8 L1171.5 731.8 L1179.5 728.5 L1187.5 726.0 L1195.5 724.2 L1203.5 722.8 L1211.5 722.2 L1219.5 721.2 L1227.5 723.0 L1235.5 725.0 L1243.5 726.2 L1251.5 725.5 L1259.5 721.8 L1267.5 715.5 L1275.5 708.0 L1283.5 698.0 L1291.5 685.5 L1299.5 672.5 L1307.5 658.0 L1315.5 646.8 L1323.5 636.8 L1331.5 628.0 L1339.5 622.2 L1347.5 617.2 L1355.5 613.0 L1363.5 610.5 L1371.5 608.0 L1379.5 605.0" fill="none" stroke="#ff0000" stroke-width="1" stroke-dasharray="3 3"/>
</g>
<g id="rsi" shape-rendering="crispEdges">
<path d="M0 787.5H1646M0 838.5H1646M0 899.5H1646" stroke="#c0c0c0" stroke-dasharray="3 3" fill="none" shape-rendering="crispEdges"/>
<path d="M0.0 881.2 L3.5 883.2 L11.5 861.5 L19.5 868.2 L27.5 853.2 L35.5 857.0 L43.5 851.5 L51.5 861.2 L59.5 849.5 L67.5 848.2 L75.5 851.2 L83.5 854.5 L91.5 859.5 L99.5 865.2 L107.5 852.5 L115.5 855.2 L123.5 854.5 L131.5 862.8 L139.5 868.2 L147.5 874.5 L155.5 866.2 L163.5 867.8 L171.5 872.5 L179.5 873.8 L187.5 867.0 L195.5 840.2 L203.5 842.5 L211.5 838.2 L219.5 833.8 L227.5 832.2 L235.5 834.0 L243.5 822.8 L251.5 821.2 L259.5 825.0 L267.5 835.0 L275.5 837.0 L283.5 842.0 L291.5 826.2 L299.5 827.0 L307.5 827.0 L315.5 833.2 L323.5 832.5 L331.5 850.0 L339.5 854.0 L347.5 850.0 L355.5 839.5 L363.5 834.0 L371.5 836.2 L379.5 828.2 L387.5 837.0 L395.5 839.5 L403.5 826.5 L411.5 826.2 L419.5 822.0 L427.5 820.2 L435.5 827.0 L443.5 821.2 L451.5 820.2 L459.5 835.2 L467.5 827.0 L475.5 825.2 L483.5 813.2 L491.5 804.5 L499.5 812.0 L507.5 837.0 L515.5 840.2 L523.5 842.5 L531.5 845.8 L539.5 842.0 L547.5 850.2 L555.5 859.5 L563.5 861.2 L571.5 866.2 L579.5 861.5 L587.5 869.0 L595.5 863.2 L603.5 848.2 L611.5 844.5 L619.5 846.2 L627.5 848.2 L635.5 858.2 L643.5 868.8 L651.5 871.2 L659.5 878.2 L667.5 868.2 L675.5 855.8 L683.5 843.2 L691.5 851.2 L699.5 847.5 L707.5 846.2 L715.5 849.5 L723.5 835.8 L731.5 821.5 L739.5 826.2 L747.5 813.2 L755.5 817.5 L763.5 822.5 L771.5 815.8 L779.5 820.8 L787.5 825.0 L795.5 838.2 L803.5 842.0 L811.5 845.2 L819.5 841.2 L827.5 841.2 L835.5 842.5 L843.5 847.8 L851.5 837.5 L859.5 839.5 L867.5 832.5 L875.5 839.0 L883.5 834.5 L891.5 829.5 L899.5 828.2 L907.5 827.0 L915.5 826.2 L923.5 829.5 L931.5 840.8 L939.5 826.2 L947.5 815.5 L955.5 815.2 L963.5 816.2 L971.5 817.5 L979.5 847.0 L987.5 852.5 L995.5 851.2 L1003.5 852.2 L1011.5 835.8 L1019.5 840.0 L1027.5 842.5 L1035.5 845.2 L1043.5 845.2 L1051.5 853.2 L1059.5 864.5 L1067.5 871.2 L1075.5 874.2 L1083.5 875.2 L1091.5 877.2 L1099.5 868.2 L1107.5 870.2 L1115.5 863.2 L1123.5 865.2 L1131.5 860.2 L1139.5 864.5 L1147.5 866.2 L1155.5 851.2 L1163.5 846.2 L1171.5 848.2 L1179.5 863.2 L1187.5 866.2 L1195.5 866.2 L1203.5 865.2 L1211.5 874.2 L1219.5 865.8 L1227.5 873.2 L1235.5 860.8 L1243.5 850.8 L1251.5 827.8 L1259.5 825.8 L1267.5 820.2 L1275.5 820.0 L1283.5 818.2 L1291.5 811.5 L1299.5 828.2 L1307.5 828.8 L1315.5 833.2 L1323.5 827.0 L1331.5 833.5 L1339.5 830.0 L1347.5 826.2 L1355.5 818.2 L1363.5 826.2 L1371.5 820.8 L1379.5 819.0" fill="none" stroke="#1e90ff" stroke-width="1" />
</g>
<g id="annot"><path d="M1215.6 561.0L1297.4 269.2" stroke="#ff0000" stroke-width="3.7" stroke-linecap="round" fill="none"/><path d="M1299.3 262.3L1301.3 275.3L1290.9 272.4z" fill="#ff0000" stroke="#ff0000" stroke-width="1" stroke-linejoin="round"/><path d="M1297.8 267.6L1335.0 343.1" stroke="#ff0000" stroke-width="4.0" stroke-linecap="round" fill="none"/><path d="M1337.6 348.5L1328.3 341.9L1338.0 337.1z" fill="#ff0000" stroke="#ff0000" stroke-width="1" stroke-linejoin="round"/><path d="M1336.5 351.0L1399.6 234.3" stroke="#ff0000" stroke-width="4.0" stroke-linecap="round" fill="none"/><path d="M1402.9 228.2L1401.7 240.6L1393.2 236.0z" fill="#ff0000" stroke="#ff0000" stroke-width="1" stroke-linejoin="round"/><path d="M1275.5 628.0L1392.6 599.9" stroke="#ff0000" stroke-width="3.2" stroke-linecap="round" fill="none"/><path d="M1399.1 598.3L1389.3 605.6L1387.1 596.2z" fill="#ff0000" stroke="#ff0000" stroke-width="1" stroke-linejoin="round"/><path d="M1291.8 831.6L1382.5 815.6" stroke="#ff0000" stroke-width="3.2" stroke-linecap="round" fill="none"/><path d="M1389.0 814.5L1379.0 820.9L1377.4 811.9z" fill="#ff0000" stroke="#ff0000" stroke-width="1" stroke-linejoin="round"/></g>
<g id="axis"><text x="1652.3" y="49.8" font-family="'Liberation Sans',sans-serif" font-size="9.2" fill="#000" stroke="#000" stroke-width="0.12" textLength="32.6" lengthAdjust="spacingAndGlyphs">27766.0</text><text x="1652.3" y="82.8" font-family="'Liberation Sans',sans-serif" font-size="9.2" fill="#000" stroke="#000" stroke-width="0.12" textLength="32.6" lengthAdjust="spacingAndGlyphs">27626.0</text><text x="1652.3" y="115.8" font-family="'Liberation Sans',sans-serif" font-size="9.2" fill="#000" stroke="#000" stroke-width="0.12" textLength="32.6" lengthAdjust="spacingAndGlyphs">27482.0</text><text x="1652.3" y="148.8" font-family="'Liberation Sans',sans-serif" font-size="9.2" fill="#000" stroke="#000" stroke-width="0.12" textLength="32.6" lengthAdjust="spacingAndGlyphs">27338.0</text><text x="1652.3" y="181.8" font-family="'Liberation Sans',sans-serif" font-size="9.2" fill="#000" stroke="#000" stroke-width="0.12" textLength="32.6" lengthAdjust="spacingAndGlyphs">27194.0</text><text x="1652.3" y="214.8" font-family="'Liberation Sans',sans-serif" font-size="9.2" fill="#000" stroke="#000" stroke-width="0.12" textLength="32.6" lengthAdjust="spacingAndGlyphs">27050.0</text><text x="1652.3" y="247.8" font-family="'Liberation Sans',sans-serif" font-size="9.2" fill="#000" stroke="#000" stroke-width="0.12" textLength="32.6" lengthAdjust="spacingAndGlyphs">26910.0</text><text x="1652.3" y="280.8" font-family="'Liberation Sans',sans-serif" font-size="9.2" fill="#000" stroke="#000" stroke-width="0.12" textLength="32.6" lengthAdjust="spacingAndGlyphs">26766.0</text><text x="1652.3" y="313.8" font-family="'Liberation Sans',sans-serif" font-size="9.2" fill="#000" stroke="#000" stroke-width="0.12" textLength="32.6" lengthAdjust="spacingAndGlyphs">26622.0</text><text x="1652.3" y="346.8" font-family="'Liberation Sans',sans-serif" font-size="9.2" fill="#000" stroke="#000" stroke-width="0.12" textLength="32.6" lengthAdjust="spacingAndGlyphs">26478.0</text><text x="1652.3" y="379.8" font-family="'Liberation Sans',sans-serif" font-size="9.2" fill="#000" stroke="#000" stroke-width="0.12" textLength="32.6" lengthAdjust="spacingAndGlyphs">26334.0</text><text x="1652.3" y="412.8" font-family="'Liberation Sans',sans-serif" font-size="9.2" fill="#000" stroke="#000" stroke-width="0.12" textLength="32.6" lengthAdjust="spacingAndGlyphs">26194.0</text><text x="1652.3" y="445.8" font-family="'Liberation Sans',sans-serif" font-size="9.2" fill="#000" stroke="#000" stroke-width="0.12" textLength="32.6" lengthAdjust="spacingAndGlyphs">26050.0</text><text x="1652.3" y="478.8" font-family="'Liberation Sans',sans-serif" font-size="9.2" fill="#000" stroke="#000" stroke-width="0.12" textLength="32.6" lengthAdjust="spacingAndGlyphs">25906.0</text><text x="1652.3" y="511.8" font-family="'Liberation Sans',sans-serif" font-size="9.2" fill="#000" stroke="#000" stroke-width="0.12" textLength="32.6" lengthAdjust="spacingAndGlyphs">25762.0</text><text x="1652.3" y="544.8" font-family="'Liberation Sans',sans-serif" font-size="9.2" fill="#000" stroke="#000" stroke-width="0.12" textLength="32.6" lengthAdjust="spacingAndGlyphs">25618.0</text><text x="1652.3" y="577.8" font-family="'Liberation Sans',sans-serif" font-size="9.2" fill="#000" stroke="#000" stroke-width="0.12" textLength="32.6" lengthAdjust="spacingAndGlyphs">25478.0</text><text x="1650.5" y="590" font-family="'Liberation Sans',sans-serif" font-size="9.2" fill="#000" stroke="#000" stroke-width="0.12">167.68</text><text x="1650.5" y="650" font-family="'Liberation Sans',sans-serif" font-size="9.2" fill="#000" stroke="#000" stroke-width="0.12">0.00</text><text x="1650.5" y="746" font-family="'Liberation Sans',sans-serif" font-size="9.2" fill="#000" stroke="#000" stroke-width="0.12">-262.94</text><text x="1650.5" y="762" font-family="'Liberation Sans',sans-serif" font-size="9.2" fill="#000" stroke="#000" stroke-width="0.12">100</text><text x="1650.5" y="791" font-family="'Liberation Sans',sans-serif" font-size="9.2" fill="#000" stroke="#000" stroke-width="0.12">80</text><text x="1650.5" y="842" font-family="'Liberation Sans',sans-serif" font-size="9.2" fill="#000" stroke="#000" stroke-width="0.12">50</text><text x="1650.5" y="903" font-family="'Liberation Sans',sans-serif" font-size="9.2" fill="#000" stroke="#000" stroke-width="0.12">15</text><text x="1650.5" y="922" font-family="'Liberation Sans',sans-serif" font-size="9.2" fill="#000" stroke="#000" stroke-width="0.12">0</text><text x="-14.6" y="937.6" font-family="'Liberation Sans',sans-serif" font-size="9.2" letter-spacing="0.22" fill="#000" stroke="#000" stroke-width="0.1">7 Apr 2022</text><text x="50" y="937.6" font-family="'Liberation Sans',sans-serif" font-size="9.2" letter-spacing="0.22" fill="#000" stroke="#000" stroke-width="0.1">8 Apr 00:00</text><text x="114" y="937.6" font-family="'Liberation Sans',sans-serif" font-size="9.2" letter-spacing="0.22" fill="#000" stroke="#000" stroke-width="0.1">11 Apr 10:55</text><text x="178" y="937.6" font-family="'Liberation Sans',sans-serif" font-size="9.2" letter-spacing="0.22" fill="#000" stroke="#000" stroke-width="0.1">12 Apr 18:55</text><text x="242" y="937.6" font-family="'Liberation Sans',sans-serif" font-size="9.2" letter-spacing="0.22" fill="#000" stroke="#000" stroke-width="0.1">14 Apr 00:00</text><text x="306" y="937.6" font-family="'Liberation Sans',sans-serif" font-size="9.2" letter-spacing="0.22" fill="#000" stroke="#000" stroke-width="0.1">15 Apr 10:55</text><text x="370" y="937.6" font-family="'Liberation Sans',sans-serif" font-size="9.2" letter-spacing="0.22" fill="#000" stroke="#000" stroke-width="0.1">18 Apr 18:55</text><text x="434" y="937.6" font-family="'Liberation Sans',sans-serif" font-size="9.2" letter-spacing="0.22" fill="#000" stroke="#000" stroke-width="0.1">20 Apr 00:00</text><text x="498" y="937.6" font-family="'Liberation Sans',sans-serif" font-size="9.2" letter-spacing="0.22" fill="#000" stroke="#000" stroke-width="0.1">21 Apr 10:55</text><text x="562" y="937.6" font-family="'Liberation Sans',sans-serif" font-size="9.2" letter-spacing="0.22" fill="#000" stroke="#000" stroke-width="0.1">22 Apr 18:55</text><text x="626" y="937.6" font-family="'Liberation Sans',sans-serif" font-size="9.2" letter-spacing="0.22" fill="#000" stroke="#000" stroke-width="0.1">26 Apr 00:00</text><text x="690" y="937.6" font-family="'Liberation Sans',sans-serif" font-size="9.2" letter-spacing="0.22" fill="#000" stroke="#000" stroke-width="0.1">27 Apr 10:55</text><text x="754" y="937.6" font-family="'Liberation Sans',sans-serif" font-size="9.2" letter-spacing="0.22" fill="#000" stroke="#000" stroke-width="0.1">28 Apr 18:55</text><text x="818" y="937.6" font-family="'Liberation Sans',sans-serif" font-size="9.2" letter-spacing="0.22" fill="#000" stroke="#000" stroke-width="0.1">2 May 00:00</text><text x="882" y="937.6" font-family="'Liberation Sans',sans-serif" font-size="9.2" letter-spacing="0.22" fill="#000" stroke="#000" stroke-width="0.1">3 May 10:55</text><text x="946" y="937.6" font-family="'Liberation Sans',sans-serif" font-size="9.2" letter-spacing="0.22" fill="#000" stroke="#000" stroke-width="0.1">4 May 18:55</text><text x="1010" y="937.6" font-family="'Liberation Sans',sans-serif" font-size="9.2" letter-spacing="0.22" fill="#000" stroke="#000" stroke-width="0.1">6 May 00:00</text><text x="1074" y="937.6" font-family="'Liberation Sans',sans-serif" font-size="9.2" letter-spacing="0.22" fill="#000" stroke="#000" stroke-width="0.1">9 May 10:55</text><text x="1138" y="937.6" font-family="'Liberation Sans',sans-serif" font-size="9.2" letter-spacing="0.22" fill="#000" stroke="#000" stroke-width="0.1">10 May 18:55</text><text x="1202" y="937.6" font-family="'Liberation Sans',sans-serif" font-size="9.2" letter-spacing="0.22" fill="#000" stroke="#000" stroke-width="0.1">12 May 00:00</text><text x="1266" y="937.6" font-family="'Liberation Sans',sans-serif" font-size="9.2" letter-spacing="0.22" fill="#000" stroke="#000" stroke-width="0.1">13 May 10:55</text><text x="1330" y="937.6" font-family="'Liberation Sans',sans-serif" font-size="9.2" letter-spacing="0.22" fill="#000" stroke="#000" stroke-width="0.1">16 May 18:55</text><path d="M1647 46.5h2M1647 79.5h2M1647 112.5h2M1647 145.5h2M1647 178.5h2M1647 211.5h2M1647 244.5h2M1647 277.5h2M1647 310.5h2M1647 343.5h2M1647 376.5h2M1647 409.5h2M1647 442.5h2M1647 475.5h2M1647 508.5h2M1647 541.5h2M1647 574.5h2M1647 581.5h2M1647 646.5h2M1647 787.5h2M1647 838.5h2M1647 899.5h2M51.5 926v3M115.5 926v3M179.5 926v3M243.5 926v3M307.5 926v3M371.5 926v3M435.5 926v3M499.5 926v3M563.5 926v3M627.5 926v3M691.5 926v3M755.5 926v3M819.5 926v3M883.5 926v3M947.5 926v3M1011.5 926v3M1075.5 926v3M1139.5 926v3M1203.5 926v3M1267.5 926v3M1331.5 926v3" stroke="#000" fill="none" shape-rendering="crispEdges"/><rect x="1648" y="190" width="41" height="11" fill="#ff0000" shape-rendering="crispEdges"/><text x="1652.3" y="199.2" font-family="'Liberation Sans',sans-serif" font-size="9.2" fill="#fff" textLength="32.6" lengthAdjust="spacingAndGlyphs">27116.3</text><rect x="1648" y="220" width="41" height="11" fill="#ff0000" shape-rendering="crispEdges"/><text x="1652.3" y="229.2" font-family="'Liberation Sans',sans-serif" font-size="9.2" fill="#fff" textLength="32.6" lengthAdjust="spacingAndGlyphs">26986.4</text><rect x="1648" y="256" width="41" height="11" fill="#000" shape-rendering="crispEdges"/><text x="1652.3" y="265.2" font-family="'Liberation Sans',sans-serif" font-size="9.2" fill="#fff" textLength="32.6" lengthAdjust="spacingAndGlyphs">26832.5</text><rect x="1648" y="267" width="41" height="11" fill="#32cd32" shape-rendering="crispEdges"/><text x="1652.3" y="276.2" font-family="'Liberation Sans',sans-serif" font-size="9.2" fill="#fff" textLength="32.6" lengthAdjust="spacingAndGlyphs">26782.8</text><rect x="1648" y="297" width="41" height="11" fill="#0000ff" shape-rendering="crispEdges"/><text x="1652.3" y="306.2" font-family="'Liberation Sans',sans-serif" font-size="9.2" fill="#fff" textLength="32.6" lengthAdjust="spacingAndGlyphs">26652.8</text><rect x="1648" y="329" width="41" height="11" fill="#0000ff" shape-rendering="crispEdges"/><text x="1652.3" y="338.2" font-family="'Liberation Sans',sans-serif" font-size="9.2" fill="#fff" textLength="32.6" lengthAdjust="spacingAndGlyphs">26514.2</text><text x="1.8" y="36" font-family="'Liberation Sans',sans-serif" font-size="9.2" fill="#000" stroke="#000" stroke-width="0.1" textLength="50" lengthAdjust="spacingAndGlyphs">JPN225-,H4</text><text x="58.3" y="36" font-family="'Liberation Sans',sans-serif" font-size="9.2" fill="#000" stroke="#000" stroke-width="0.1" textLength="140" lengthAdjust="spacingAndGlyphs">26815.0 26862.5 26787.5 26832.5</text><text x="-7.5" y="592.2" font-family="'Liberation Sans',sans-serif" font-size="9.2" fill="#000" stroke="#000" stroke-width="0.1" textLength="126.3" lengthAdjust="spacingAndGlyphs">MACD(12,26,9) 136.51 102.04</text><text x="-6.8" y="763.7" font-family="'Liberation Sans',sans-serif" font-size="9.2" fill="#000" stroke="#000" stroke-width="0.1" textLength="66" lengthAdjust="spacingAndGlyphs">RSI(14) 61.0174</text><path d="M1390.8 25h9.4l-4.7 5.2z" fill="#c0c0c0"/></g>
<g id="panel"><rect x="0" y="44" width="209" height="57" fill="#fff"/><rect x="0" y="44" width="41.5" height="24" fill="url(#gSell)"/><rect x="157" y="44" width="51.5" height="24" fill="url(#gSell)"/><path d="M0 44.5H41.5M157 44.5H208.5" stroke="#c81818" fill="none"/><rect x="0" y="68" width="98.5" height="33" fill="url(#gPrice)"/><rect x="101" y="68" width="107.5" height="33" fill="url(#gPrice)"/><path d="M0 67.5H37.5M160.5 67.5H204.5" stroke="#a81010" fill="none"/><path d="M0 68.5H37.5M160.5 68.5H204.5" stroke="#f47c7c" fill="none"/><path d="M41 44V68M208 44V101M98 68V101" stroke="#b41414" fill="none" shape-rendering="crispEdges"/><path d="M0 100.5H98.5M101 100.5H208.5" stroke="#a00808" fill="none" shape-rendering="crispEdges"/><rect x="44.5" y="44.5" width="110" height="21" fill="#fff" stroke="#a6a8b0"/><rect x="45.5" y="45.5" width="19" height="19" fill="url(#gBtn)" stroke="#f8f8f8"/><rect x="134.5" y="45.5" width="19" height="19" fill="url(#gBtn)" stroke="#f8f8f8"/><path d="M65.5 45V65M133.5 45V65" stroke="#a6a8b0" fill="none"/><path d="M52 53.2h5.4l-2.7 3.2z" fill="#4a5cc4"/><path d="M140.4 56.4h5.4l-2.7 -3.2z" fill="#4a5cc4"/><text x="129.5" y="59.3" font-family="'Liberation Sans',sans-serif" font-size="12.5" fill="#111" text-anchor="end">1.00</text><text x="2.4" y="60.2" font-family="'Liberation Sans',sans-serif" font-size="12.4" fill="#fff" textLength="25.5" lengthAdjust="spacingAndGlyphs">SELL</text><text x="170" y="60.2" font-family="'Liberation Sans',sans-serif" font-size="12.4" fill="#fff" textLength="22.5" lengthAdjust="spacingAndGlyphs">BUY</text><text x="6.3" y="96.2" font-family="'Liberation Sans',sans-serif" font-size="12.2" font-weight="bold" fill="#fff" textLength="34.5" lengthAdjust="spacingAndGlyphs">26831</text><text x="116" y="96.2" font-family="'Liberation Sans',sans-serif" font-size="12.2" font-weight="bold" fill="#fff" textLength="34.5" lengthAdjust="spacingAndGlyphs">26854</text><text x="44" y="96.2" font-family="'Liberation Sans',sans-serif" font-size="25" font-weight="bold" fill="#fff">.</text><text x="154.8" y="96.2" font-family="'Liberation Sans',sans-serif" font-size="25" font-weight="bold" fill="#fff">.</text><text x="50.5" y="96.2" font-family="'Liberation Sans',sans-serif" font-size="33" fill="#fff">0</text><text x="161" y="96.2" font-family="'Liberation Sans',sans-serif" font-size="33" fill="#fff">0</text></g>
</svg>
</body></html>
